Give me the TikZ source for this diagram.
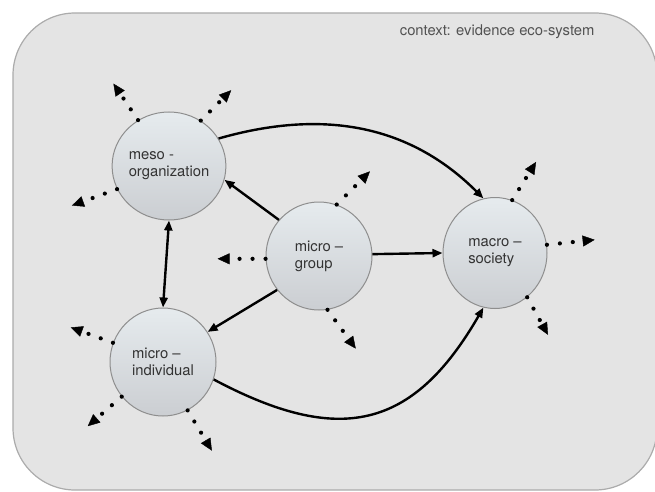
\documentclass[tikz,border=0pt]{standalone}
\usepackage{fontspec}
\setmainfont{TeX Gyre Heros}
\usetikzlibrary{arrows.meta,shapes.geometric}
\definecolor{ctxgray}{HTML}{E4E4E4}
\definecolor{ctxline}{HTML}{ABABAB}
\definecolor{balltop}{HTML}{E6EBEE}
\definecolor{ballbot}{HTML}{CBCED2}
\definecolor{ballline}{HTML}{8E8E8E}
\definecolor{labeltext}{HTML}{333333}

\begin{document}
\begin{tikzpicture}[x=1pt,y=1pt,
    level/.style={ellipse, draw=ballline, line width=1pt, top color=balltop,
      bottom color=ballbot, minimum width=106pt, minimum height=108pt,
      inner sep=0pt, align=left, text=labeltext,
      font=\fontsize{14.8}{17}\selectfont},
    link/.style={line width=2.4pt, -{Triangle[length=10pt,width=8pt]}},
    outflow/.style={line width=4.2pt, line cap=round, dash pattern=on 0pt off 13pt,
      -{Triangle[length=12pt,width=11pt,line width=0.4pt]}}]
        \path[use as bounding box] (0,0) rectangle (655,491);
        \clip (0,0) rectangle (655,491);
        \draw[ctxline, fill=ctxgray, line width=1.2pt, rounded corners=62pt] (13,1) rectangle (657,478);
        \node[anchor=east, text=labeltext!85, font=\fontsize{14.8}{17}\selectfont] (ctx) at (598,459) {context: evidence eco-system};

        \node[level] (meso) at (169,325) {meso -\\organization};
        \node[level] (group) at (319,235) {micro --\\group};
        \node[level] (indiv) at (163,129) {micro --\\individual};
        \node[level, minimum width=104pt, minimum height=111pt] (macro) at (495,238) {macro --\\society};

        \draw[link] (meso.29) to[out=16,in=135] (macro.102);
        \draw[link] (group.138) -- (meso.-14);
        \draw[link] (group.2) -- (macro.180);
        \draw[link] (group.219) -- (indiv.34);
        \draw[link, {Triangle[length=10pt,width=8pt]}-{Triangle[length=10pt,width=8pt]}] (meso.south) -- (indiv.north);
        \draw[link] (indiv.-19) to[out=-28,in=240,looseness=1.3] (macro.258);

        \foreach \n/\a/\d/\l in {meso/124/124/44, meso/55/45/43, meso/204/200/48,
                                 group/71/45/47, group/183/180/48, group/279/306/48,
                                 indiv/159/160/45, indiv/220/221/45, indiv/297/301/47,
                                 macro/72/58/45, macro/9/6/48, macro/306/299/43}
            \draw[outflow] (\n.\a) -- ++(\d:\l pt);
    \end{tikzpicture}
\end{document}
